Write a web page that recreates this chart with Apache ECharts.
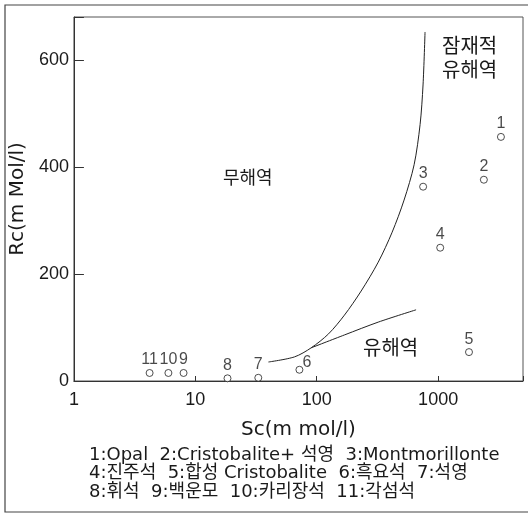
<!DOCTYPE html>
<html>
<head>
<meta charset="utf-8">
<script src="https://cdn.jsdelivr.net/npm/echarts@6/dist/echarts.min.js"></script>
<style>
html,body{margin:0;padding:0;background:#fff;}
#chart{width:530px;height:514px;}
</style>
</head>
<body>
<div id="chart"></div>
<script>
// Data
const pointLabels = ['1','2','3','4','5','6','7','8','9','10','11'];
const pointSc = [3290, 2380, 752, 1040, 1795, 72, 33, 18.4, 8.0, 6.0, 4.2];
const pointRc = [456, 376, 363, 249, 54, 21, 6, 5, 15, 15, 15];

const upperSc = [40, 65.5, 90, 125, 169, 232, 321, 418, 524, 634, 710, 751, 780];
const upperRc = [35.5, 45, 62, 88, 123, 168, 222, 278, 338, 404, 479, 553, 652];

const lowerSc = [90, 169, 321, 658];
const lowerRc = [62, 86, 110, 133];

const xTickLabels = ['1', '10', '100', '1000'];
const yTickLabels = ['0', '200', '400', '600'];

const legendLines = [
  '1:Opal  2:Cristobalite+ 석영  3:Montmorillonte',
  '4:진주석  5:합성 Cristobalite  6:흑요석  7:석영',
  '8:휘석  9:백운모  10:카리장석  11:각섬석'
];

const FONT = "'Liberation Sans', Arial, 'Noto Sans CJK KR', sans-serif";
const WIDE = "'DejaVu Sans', 'Noto Sans CJK KR', sans-serif";
const INK = '#1a1a1a';

const pts = pointSc.map((x, i) => {
  const d = { value: [x, pointRc[i]], name: pointLabels[i] };
  if (pointLabels[i] === '6') {
    d.label = { position: 'right', offset: [-2, -7] };
  }
  return d;
});

const chart = echarts.init(document.getElementById('chart'));
chart.setOption({
  animation: false,
  backgroundColor: '#fff',
  grid: { left: 72, right: 7, top: 17, bottom: 133, show: true, borderColor: '#555', borderWidth: 1 },
  xAxis: {
    type: 'log', logBase: 10, min: 1, max: 5000,
    name: 'Sc(m mol/l)', nameLocation: 'middle', nameGap: 39,
    nameTextStyle: { fontFamily: WIDE, fontSize: 20, color: INK },
    axisLine: { lineStyle: { color: '#333', width: 1 } },
    axisTick: { inside: true, length: 5, lineStyle: { color: '#333' } },
    splitLine: { show: false },
    axisLabel: {
      margin: 10, fontFamily: FONT, fontSize: 18, color: INK,
      formatter: v => { const s = String(Math.round(v)); return xTickLabels.includes(s) ? s : ''; }
    }
  },
  yAxis: {
    type: 'value', min: 0, max: 680, interval: 200,
    name: 'Rc(m Mol/l)', nameLocation: 'middle', nameGap: 40,
    nameTextStyle: { fontFamily: WIDE, fontSize: 20, color: INK },
    axisLine: { show: true, lineStyle: { color: '#333', width: 1 } },
    axisTick: { inside: true, length: 10, lineStyle: { color: '#333' } },
    splitLine: { show: false },
    axisLabel: {
      margin: 5, fontFamily: FONT, fontSize: 18, color: INK,
      formatter: v => { const s = String(v); return yTickLabels.includes(s) ? s : ''; }
    }
  },
  series: [
    {
      type: 'line', smooth: 0.3, symbol: 'none',
      lineStyle: { color: '#222', width: 1 },
      data: upperSc.map((x, i) => [x, upperRc[i]])
    },
    {
      type: 'line', smooth: 0.3, symbol: 'none',
      lineStyle: { color: '#222', width: 1 },
      data: lowerSc.map((x, i) => [x, lowerRc[i]])
    },
    {
      type: 'scatter', symbol: 'circle', symbolSize: 7,
      itemStyle: { color: '#fff', borderColor: '#222', borderWidth: 1 },
      label: {
        show: true, position: 'top', distance: 1,
        formatter: p => p.name,
        fontFamily: FONT, fontSize: 16, color: INK
      },
      data: pts,
      z: 5
    }
  ],
  graphic: [
    { type: 'polyline', shape: { points: [[528, 5], [5, 5], [5, 512], [528, 512]] }, style: { stroke: '#444', lineWidth: 1.2, fill: null } },
    { type: 'text', left: 223, top: 170, style: { text: '무해역', font: "18px " + FONT, fill: INK } },
    { type: 'text', left: 442, top: 35, style: { text: '잠재적\n유해역', font: "20px " + FONT, fill: INK, lineHeight: 24 } },
    { type: 'text', left: 363, top: 339, style: { text: '유해역', font: "20px " + FONT, fill: INK } },
    { type: 'text', left: 89, top: 446, style: { text: legendLines.join('\n'), font: "18px " + WIDE, fill: INK, lineHeight: 18.5 } }
  ]
});
</script>
</body>
</html>
